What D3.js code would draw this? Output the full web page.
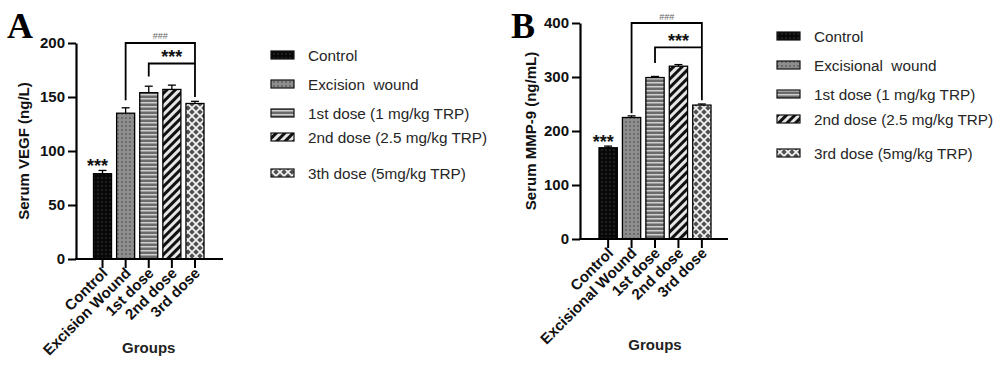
<!DOCTYPE html>
<html><head><meta charset="utf-8">
<script src="https://cdn.jsdelivr.net/npm/d3@7"></script>
<style>body{margin:0;background:#fff}svg{display:block}</style>
</head><body><svg id="c" width="1000" height="369"></svg>
<script>
// ---- data ----
const categoriesA = ["Control", "Excision Wound", "1st dose", "2nd dose", "3rd dose"];
const valuesA = [79, 135, 154, 157, 144];
const errorsA = [3, 5, 6, 4, 2];
const ticksA = [0, 50, 100, 150, 200];
const legendA = ["Control", "Excision  wound", "1st dose (1 mg/kg TRP)", "2nd dose (2.5 mg/kg TRP)", "3th dose (5mg/kg TRP)"];

const categoriesB = ["Control", "Excisional Wound", "1st dose", "2nd dose", "3rd dose"];
const valuesB = [169, 225, 299, 320, 248];
const errorsB = [3, 3, 2, 3, 2];
const ticksB = [0, 100, 200, 300, 400];
const legendB = ["Control", "Excisional  wound", "1st dose (1 mg/kg TRP)", "2nd dose (2.5 mg/kg TRP)", "3rd dose (5mg/kg TRP)"];

const svg = d3.select("#c");
const defs = svg.append("defs");
function pat(id, w, h, draw, tr) {
  const p = defs.append("pattern").attr("id", id).attr("patternUnits", "userSpaceOnUse")
    .attr("width", w).attr("height", h);
  if (tr) p.attr("patternTransform", tr);
  draw(p);
}
pat("p0", 4, 4, p => {
  p.append("rect").attr("width", 4).attr("height", 4).attr("fill", "#080808");
  p.append("circle").attr("cx", 2).attr("cy", 2).attr("r", 0.8).attr("fill", "#3c3c3c");
});
pat("p1", 4, 4, p => {
  p.append("rect").attr("width", 4).attr("height", 4).attr("fill", "#8e8e8e");
  p.append("circle").attr("cx", 2).attr("cy", 2).attr("r", 0.9).attr("fill", "#5c5c5c");
});
pat("p2", 4, 4, p => {
  p.append("rect").attr("width", 4).attr("height", 4).attr("fill", "#6a6a6a");
  p.append("rect").attr("y", 2).attr("width", 4).attr("height", 1.5).attr("fill", "#d0d0d0");
});
pat("p3", 6, 6, p => {
  p.append("rect").attr("width", 6).attr("height", 6).attr("fill", "#e6e6e6");
  p.append("rect").attr("width", 3).attr("height", 6).attr("fill", "#111");
}, "rotate(45)");
pat("p4", 8, 8, p => {
  p.append("rect").attr("width", 8).attr("height", 8).attr("fill", "#f4f4f4");
  const d = (cx, cy, r) => `M${cx},${cy - r}L${cx + r},${cy}L${cx},${cy + r}L${cx - r},${cy}Z`;
  [[0, 0], [8, 0], [0, 8], [8, 8], [4, 4]].forEach(([x, y]) =>
    p.append("path").attr("d", d(x, y, 2.8)).attr("fill", "#505050"));
});
const fills = ["url(#p0)", "url(#p1)", "url(#p2)", "url(#p3)", "url(#p4)"];

function panel(cfg) {
  const g = svg.append("g");
  const y = d3.scaleLinear().domain([0, cfg.ticks[cfg.ticks.length - 1]]).range([cfg.y0, cfg.y1]);
  const x = d3.scaleBand().domain(cfg.cats).range(cfg.barRange).paddingInner(0.22).paddingOuter(0);
  const cx = i => x(cfg.cats[i]) + x.bandwidth() / 2;

  // bars
  g.selectAll("rect.bar").data(cfg.vals).join("rect").attr("class", "bar")
    .attr("x", (d, i) => x(cfg.cats[i])).attr("width", x.bandwidth())
    .attr("y", d => y(d)).attr("height", d => y(0) - y(d))
    .attr("fill", (d, i) => fills[i]).attr("stroke", "#000").attr("stroke-width", 1.3);
  // error bars (upper only)
  cfg.vals.forEach((v, i) => {
    const c = cx(i), top = y(v + cfg.errs[i]);
    g.append("line").attr("x1", c).attr("x2", c).attr("y1", y(v)).attr("y2", top).attr("stroke", "#000").attr("stroke-width", 1.3);
    g.append("line").attr("x1", c - 4).attr("x2", c + 4).attr("y1", top).attr("y2", top).attr("stroke", "#000").attr("stroke-width", 1.3);
  });

  // y axis
  const ya = g.append("g").attr("transform", `translate(${cfg.axisX},0)`)
    .call(d3.axisLeft(y).tickValues(cfg.ticks).tickSizeInner(8).tickSizeOuter(0).tickPadding(3));
  ya.select(".domain").attr("stroke-width", 2.2);
  ya.selectAll(".tick line").attr("stroke-width", 2);
  ya.selectAll(".tick text").attr("font-family", "Liberation Sans, Arial, sans-serif")
    .attr("font-weight", "bold").attr("font-size", 15).attr("fill", "#111");

  // x axis
  g.append("line").attr("x1", cfg.axisX - 1).attr("x2", cfg.xEnd).attr("y1", y(0)).attr("y2", y(0))
    .attr("stroke", "#000").attr("stroke-width", 2.2);
  const xa = g.append("g").attr("transform", `translate(0,${y(0)})`)
    .call(d3.axisBottom(x).tickSizeInner(9).tickSizeOuter(0).tickPadding(0));
  xa.select(".domain").remove();
  xa.selectAll(".tick line").attr("stroke-width", 2);
  xa.selectAll(".tick text")
    .attr("font-family", "Liberation Sans, Arial, sans-serif").attr("font-weight", "bold")
    .attr("font-size", 15).attr("fill", "#111")
    .attr("text-anchor", "end").attr("dy", 0).attr("y", 0)
    .attr("transform", "translate(6,15) rotate(-45)");

  // axis titles
  g.append("text").attr("transform", `translate(${cfg.axisX - cfg.ylabOff},${(cfg.y0 + cfg.y1) / 2}) rotate(-90)`)
    .attr("text-anchor", "middle").attr("font-family", "Liberation Sans, Arial, sans-serif")
    .attr("font-weight", "bold").attr("font-size", 15).attr("fill", "#111").text(cfg.ylab);
  g.append("text").attr("x", (cfg.barRange[0] + cfg.barRange[1]) / 2).attr("y", cfg.groupsY)
    .attr("text-anchor", "middle").attr("font-family", "Liberation Sans, Arial, sans-serif")
    .attr("font-weight", "bold").attr("font-size", 15).attr("fill", "#222").text("Groups");

  // panel letter
  g.append("text").attr("x", cfg.letterX).attr("y", 38).attr("font-family", "Liberation Serif, Times New Roman, serif")
    .attr("font-weight", "bold").attr("font-size", 36).attr("fill", "#000").text(cfg.letter);

  // significance
  const sig = (text, xc, yc, size, col, w) => g.append("text").attr("x", xc).attr("y", yc + size * 0.55)
    .attr("text-anchor", "middle").attr("font-family", "Liberation Sans, Arial, sans-serif")
    .attr("font-weight", w).attr("font-size", size).attr("fill", col).text(text);
  sig("***", cx(0) - 5, y(cfg.vals[0] + cfg.errs[0]) - 8, 18, "#111", "bold");
  cfg.brackets.forEach(b => {
    const xl = cx(b.from), xr = cx(b.to), yt = y(b.top);
    g.append("path").attr("d", `M${xl},${y(b.left)}V${yt}H${xr}V${y(b.right)}`)
      .attr("fill", "none").attr("stroke", "#000").attr("stroke-width", 1.8);
    sig(b.label, (xl + xr) / 2, yt - b.labOff, b.size, b.col, b.w);
  });

  // legend
  const lg = g.append("g");
  cfg.legend.forEach((t, i) => {
    lg.append("rect").attr("x", cfg.legX).attr("y", cfg.legY[i] - 4).attr("width", 23).attr("height", 8)
      .attr("fill", fills[i]).attr("stroke", "#111").attr("stroke-width", 1.2);
    lg.append("text").attr("x", cfg.legX + 37).attr("y", cfg.legY[i] + 5.5)
      .attr("font-family", "Liberation Sans, Arial, sans-serif").attr("font-size", 15.3)
      .attr("fill", "#262626").style("white-space", "pre").text(t);
  });
}

panel({
  cats: categoriesA, vals: valuesA, errs: errorsA, ticks: ticksA, legend: legendA,
  y0: 259, y1: 43, barRange: [93.5, 204], axisX: 76, xEnd: 223, ylab: "Serum VEGF (ng/L)", ylabOff: 47,
  groupsY: 353, letter: "A", letterX: 7,
  brackets: [
    { from: 1, to: 4, top: 200, left: 147, right: 150, label: "###", labOff: 9, size: 9, col: "#666", w: "normal" },
    { from: 2, to: 4, top: 181, left: 169, right: 181, label: "***", labOff: 10, size: 18, col: "#111", w: "bold" }
  ],
  legX: 271, legY: [55, 84, 113, 137, 173]
});
panel({
  cats: categoriesB, vals: valuesB, errs: errorsB, ticks: ticksB, legend: legendB,
  y0: 239, y1: 23, barRange: [599, 711], axisX: 580, xEnd: 728, ylab: "Serum MMP-9 (ng/mL)", ylabOff: 44,
  groupsY: 350, letter: "B", letterX: 511,
  brackets: [
    { from: 1, to: 4, top: 400, left: 233, right: 257, label: "###", labOff: 8, size: 9, col: "#666", w: "normal" },
    { from: 2, to: 4, top: 355, left: 326, right: 355, label: "***", labOff: 10, size: 18, col: "#111", w: "bold" }
  ],
  legX: 777, legY: [36, 65, 94, 119, 153]
});
</script></body></html>
